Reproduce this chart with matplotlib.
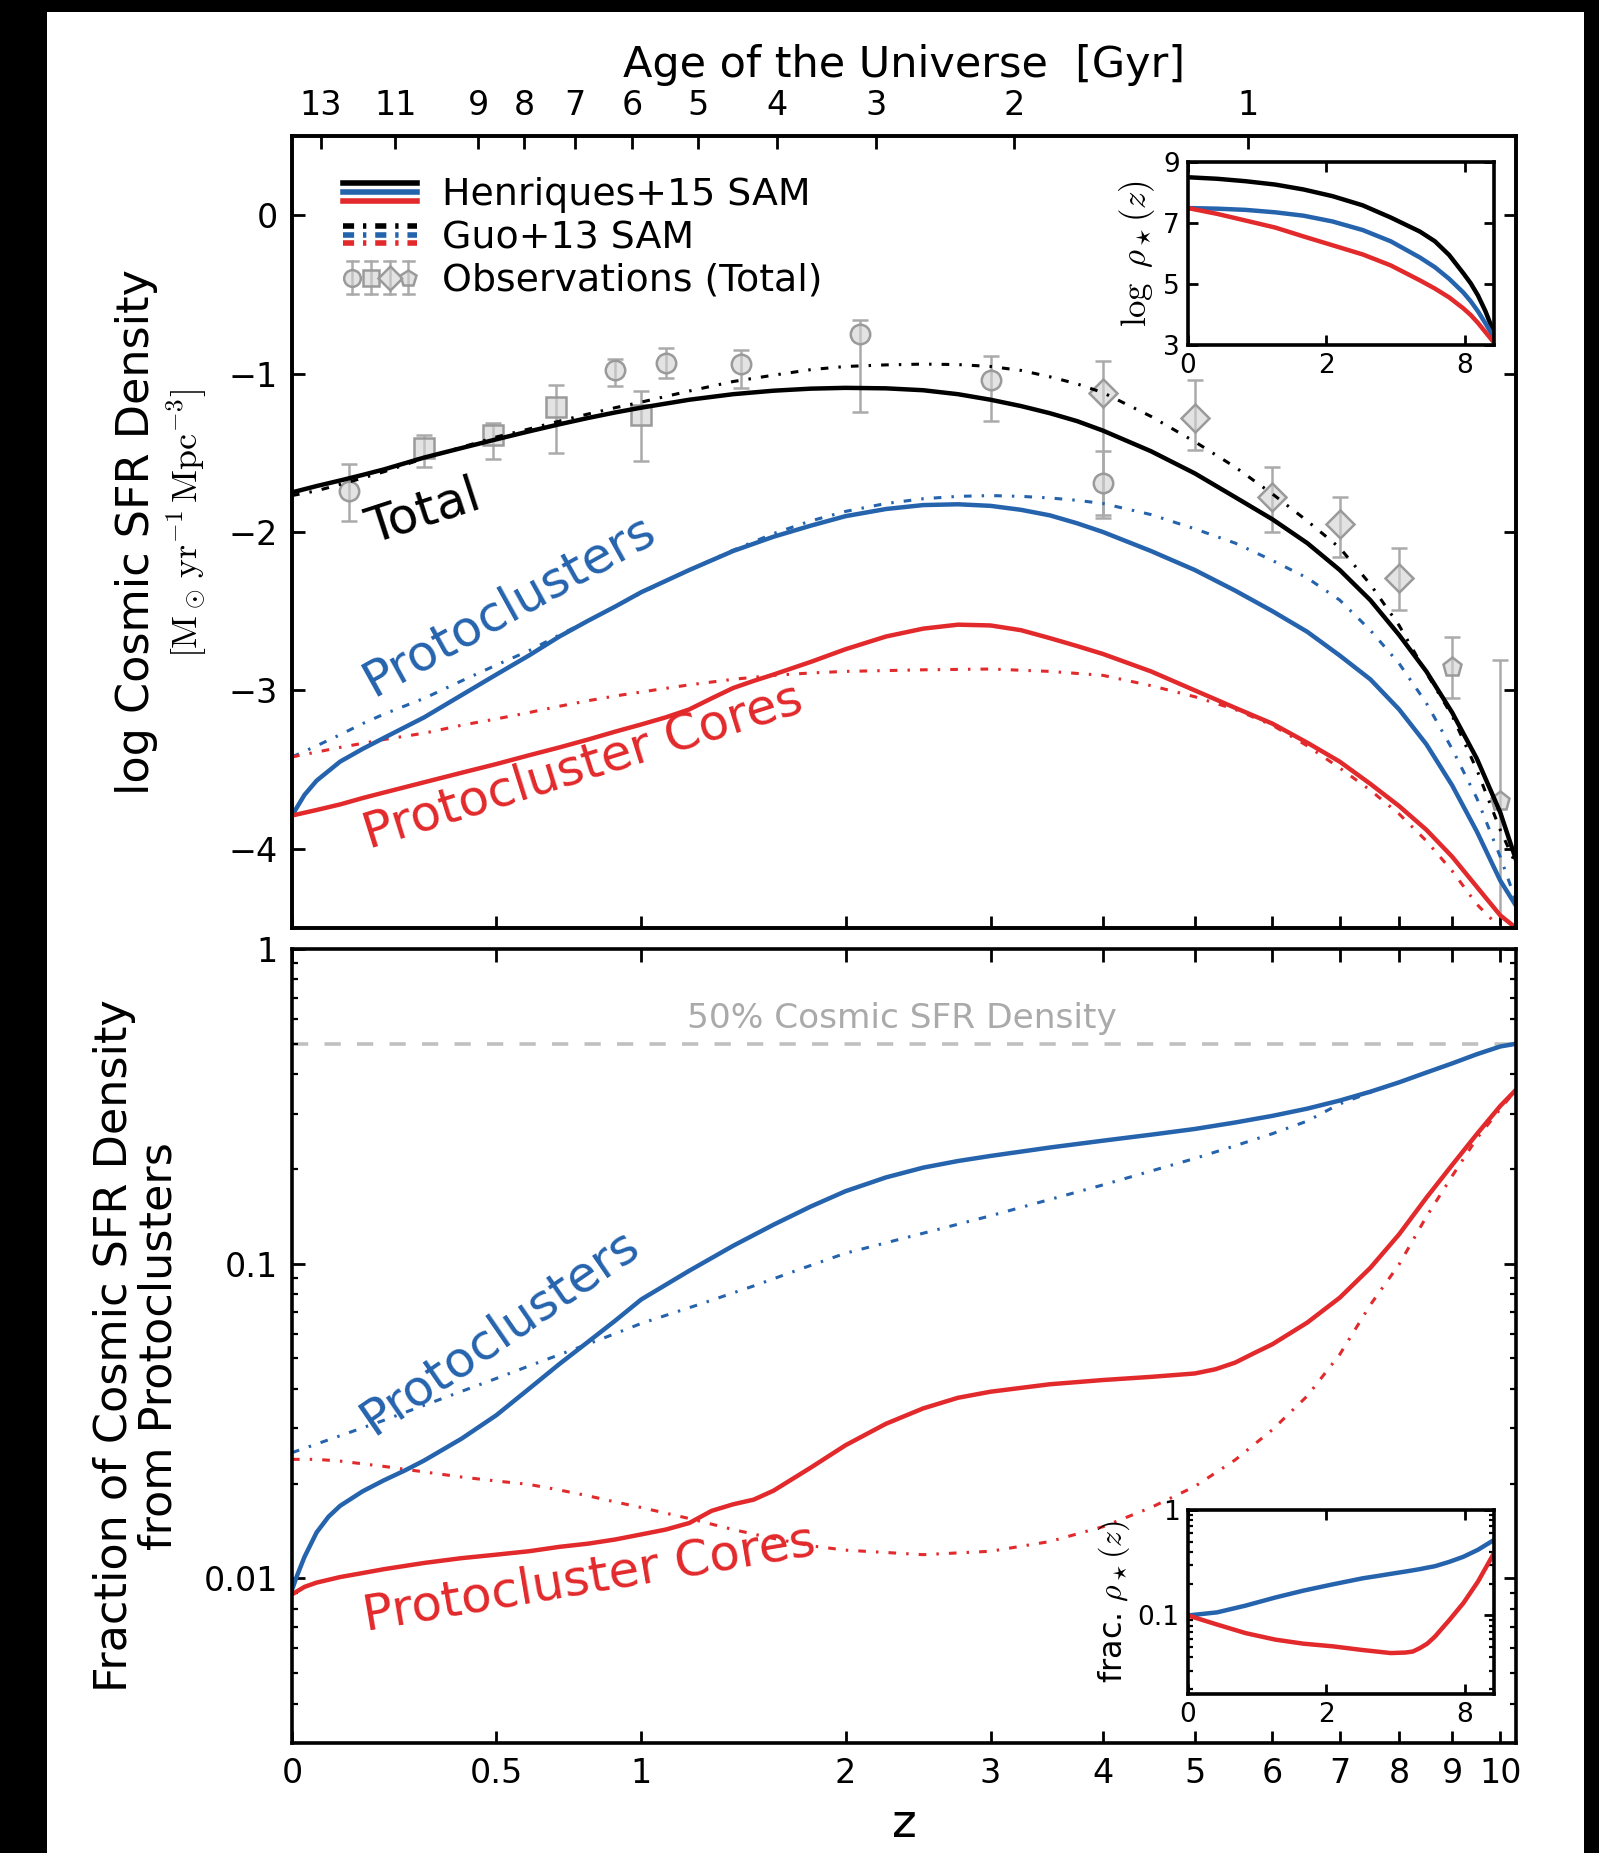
import numpy as np
import matplotlib
matplotlib.use("Agg")
import matplotlib.pyplot as plt
from matplotlib.lines import Line2D
from matplotlib.patches import Rectangle
from matplotlib.legend_handler import HandlerBase
from matplotlib.ticker import FixedLocator, NullLocator, NullFormatter, LogLocator

plt.rcParams['font.family'] = ['DejaVu Sans']
plt.rcParams['mathtext.fontset'] = 'cm'

BLUE = '#2563ad'
RED = '#e2292b'
GREY = '#9a9a9a'

# ---------------- data ----------------
# top panel: log cosmic SFR density
z_tot = [0, 0.05, 0.1, 0.15, 0.2, 0.3, 0.4, 0.5, 0.6, 0.7, 0.8, 0.9, 1.0, 1.2, 1.4, 1.6, 1.8,
         2.0, 2.25, 2.5, 2.75, 3.0, 3.25, 3.5, 3.75, 4.0, 4.5, 5.0, 5.5, 6.0, 6.5, 7.0, 7.5,
         8.0, 8.5, 9.0, 9.5, 10.0, 10.35]
sfr_hen_tot = [-1.75, -1.71, -1.675, -1.64, -1.605, -1.53, -1.47, -1.415, -1.365, -1.32,
               -1.28, -1.245, -1.215, -1.165, -1.13, -1.108, -1.095, -1.09, -1.093, -1.105,
               -1.13, -1.165, -1.205, -1.25, -1.30, -1.36, -1.49, -1.63, -1.78, -1.92,
               -2.07, -2.24, -2.43, -2.65, -2.88, -3.14, -3.43, -3.77, -4.07]
sfr_guo_tot = [-1.77, -1.74, -1.70, -1.66, -1.62, -1.535, -1.465, -1.40, -1.35, -1.30,
               -1.255, -1.215, -1.18, -1.11, -1.05, -1.01, -0.975, -0.955, -0.945, -0.94,
               -0.943, -0.955, -0.98, -1.02, -1.065, -1.12, -1.27, -1.43, -1.59, -1.76,
               -1.93, -2.10, -2.33, -2.59, -2.89, -3.16, -3.50, -3.88, -4.10]

z_hen_pc = [0, 0.025, 0.05, 0.1, 0.15, 0.2, 0.3, 0.4, 0.5, 0.6, 0.7, 0.8, 0.9, 1.0, 1.2, 1.4,
            1.6, 1.8, 2.0, 2.25, 2.5, 2.75, 3.0, 3.25, 3.5, 3.75, 4.0, 4.5, 5.0, 5.5, 6.0,
            6.5, 7.0, 7.5, 8.0, 8.5, 9.0, 9.5, 10.0, 10.35]
sfr_hen_pc = [-3.79, -3.66, -3.57, -3.45, -3.37, -3.30, -3.17, -3.03, -2.90, -2.78, -2.66,
              -2.56, -2.47, -2.38, -2.24, -2.12, -2.03, -1.96, -1.90, -1.855, -1.83, -1.825,
              -1.835, -1.86, -1.895, -1.945, -2.00, -2.12, -2.24, -2.37, -2.50, -2.63,
              -2.78, -2.93, -3.12, -3.34, -3.60, -3.89, -4.20, -4.36]

z_guo_pc = z_tot
sfr_guo_pc = [-3.42, -3.35, -3.28, -3.21, -3.15, -3.05, -2.94, -2.84, -2.75, -2.65, -2.56,
              -2.47, -2.385, -2.24, -2.115, -2.01, -1.93, -1.87, -1.82, -1.79, -1.775, -1.77,
              -1.775, -1.785, -1.80, -1.82, -1.89, -1.98, -2.07, -2.18, -2.29, -2.43, -2.62,
              -2.83, -3.08, -3.37, -3.68, -4.05, -4.33]

z_hen_core = [0, 0.05, 0.1, 0.15, 0.2, 0.3, 0.4, 0.5, 0.6, 0.7, 0.8, 0.9, 1.0, 1.1, 1.2, 1.3,
              1.4, 1.5, 1.6, 1.8, 2.0, 2.25, 2.5, 2.75, 3.0, 3.25, 3.5, 3.75, 4.0, 4.5, 5.0,
              5.5, 6.0, 6.5, 7.0, 7.5, 8.0, 8.5, 9.0, 9.5, 10.0, 10.35]
sfr_hen_core = [-3.79, -3.755, -3.72, -3.68, -3.645, -3.58, -3.52, -3.465, -3.41, -3.36,
                -3.31, -3.26, -3.215, -3.17, -3.12, -3.05, -2.985, -2.94, -2.90, -2.82,
                -2.74, -2.66, -2.61, -2.585, -2.59, -2.62, -2.67, -2.72, -2.77, -2.88,
                -3.00, -3.11, -3.21, -3.33, -3.45, -3.59, -3.73, -3.88, -4.05, -4.24,
                -4.42, -4.50]

z_guo_core = [0, 0.1, 0.2, 0.3, 0.4, 0.5, 0.6, 0.7, 0.8, 0.9, 1.0, 1.2, 1.4, 1.6, 1.8, 2.0,
              2.5, 3.0, 3.5, 4.0, 4.5, 5.0, 5.5, 6.0, 6.5, 7.0, 7.5, 8.0, 8.5, 9.0, 9.5, 10.0,
              10.35]
sfr_guo_core = [-3.42, -3.36, -3.31, -3.27, -3.22, -3.18, -3.14, -3.10, -3.065, -3.035,
                -3.01, -2.965, -2.93, -2.905, -2.89, -2.88, -2.87, -2.865, -2.88, -2.905,
                -2.97, -3.04, -3.12, -3.22, -3.35, -3.49, -3.63, -3.78, -3.95, -4.14, -4.35,
                -4.50, -4.62]

# observations (total)
obs_z = [0.12, 0.3, 0.49, 0.69, 0.9, 1.0, 1.1, 1.44, 2.09, 3.0, 4.0, 4.0, 5.0, 6.0, 7.0,
         8.0, 9.0, 10.0]
obs_sfr = [-1.74, -1.47, -1.39, -1.21, -0.98, -1.26, -0.93, -0.94, -0.75, -1.04, -1.12,
           -1.69, -1.28, -1.78, -1.95, -2.29, -2.85, -3.70]
obs_err_lo = [0.19, 0.12, 0.15, 0.29, 0.10, 0.29, 0.10, 0.15, 0.49, 0.26, 0.79, 0.20, 0.20,
              0.22, 0.21, 0.20, 0.20, 0.90]
obs_err_hi = [0.17, 0.08, 0.08, 0.14, 0.07, 0.15, 0.09, 0.09, 0.09, 0.15, 0.20, 0.20, 0.24,
              0.19, 0.17, 0.19, 0.19, 0.89]
obs_marker = ['o', 's', 's', 's', 'o', 's', 'o', 'o', 'o', 'o', 'D', 'o', 'D', 'D', 'D',
              'D', 'p', 'p']

# bottom panel: fraction of cosmic SFR density from protoclusters
z_fhen_pc = [0, 0.01, 0.025, 0.05, 0.075, 0.1, 0.15, 0.2, 0.25, 0.3, 0.4, 0.5, 0.6, 0.7, 0.8,
             0.9, 1.0, 1.2, 1.4, 1.6, 1.8, 2.0, 2.25, 2.5, 2.75, 3.0, 3.5, 4.0, 4.5, 5.0,
             5.5, 6.0, 6.5, 7.0, 7.5, 8.0, 8.5, 9.0, 9.5, 10.0, 10.35]
f_hen_pc = [0.0092, 0.0102, 0.0117, 0.0140, 0.0157, 0.0170, 0.0189, 0.0205, 0.0220, 0.0237,
            0.0278, 0.0330, 0.0400, 0.0480, 0.0565, 0.0660, 0.0770, 0.095, 0.114, 0.133,
            0.152, 0.170, 0.188, 0.202, 0.212, 0.220, 0.234, 0.246, 0.257, 0.268, 0.281,
            0.295, 0.311, 0.330, 0.352, 0.377, 0.405, 0.433, 0.463, 0.490, 0.500]

z_fguo_pc = [0, 0.1, 0.2, 0.3, 0.4, 0.5, 0.6, 0.7, 0.8, 0.9, 1.0, 1.25, 1.5, 1.75, 2.0, 2.5,
             3.0, 3.5, 4.0, 4.5, 5.0, 5.5, 6.0, 6.5, 7.0, 7.5, 8.0, 8.5, 9.0, 9.5, 10.0,
             10.35]
f_guo_pc = [0.0251, 0.0284, 0.0318, 0.0355, 0.0393, 0.0432, 0.0473, 0.0514, 0.0556, 0.0600,
            0.0646, 0.0745, 0.085, 0.0965, 0.108, 0.125, 0.142, 0.160, 0.178, 0.197, 0.216,
            0.237, 0.259, 0.284, 0.322, 0.350, 0.377, 0.405, 0.433, 0.463, 0.490, 0.500]

z_fhen_core = [0, 0.025, 0.05, 0.075, 0.1, 0.15, 0.2, 0.3, 0.4, 0.5, 0.6, 0.7, 0.8, 0.9, 1.0,
               1.1, 1.2, 1.3, 1.4, 1.5, 1.6, 1.8, 2.0, 2.25, 2.5, 2.75, 3.0, 3.5, 4.0, 4.5,
               5.0, 5.25, 5.5, 5.75, 6.0, 6.5, 7.0, 7.5, 8.0, 8.5, 9.0, 9.5, 10.0, 10.35]
f_hen_core = [0.0089, 0.0094, 0.0097, 0.0099, 0.0101, 0.0104, 0.0107, 0.0112, 0.0116, 0.0119,
              0.0122, 0.0126, 0.0129, 0.0133, 0.0138, 0.0143, 0.0150, 0.0164, 0.0172,
              0.0178, 0.0190, 0.0225, 0.0265, 0.0310, 0.0347, 0.0375, 0.0392, 0.0414,
              0.0427, 0.0437, 0.0448, 0.0462, 0.0485, 0.0520, 0.0555, 0.0650, 0.0780,
              0.097, 0.124, 0.162, 0.206, 0.258, 0.317, 0.357]

z_fguo_core = [0, 0.05, 0.1, 0.2, 0.3, 0.4, 0.5, 0.6, 0.7, 0.8, 0.9, 1.0, 1.2, 1.4, 1.6, 1.8,
               2.0, 2.5, 3.0, 3.5, 4.0, 4.5, 5.0, 5.5, 6.0, 6.5, 7.0, 7.5, 8.0, 8.5, 9.0, 9.5,
               10.0, 10.35]
f_guo_core = [0.0239, 0.0239, 0.0236, 0.0227, 0.0218, 0.0210, 0.0204, 0.0199, 0.0191, 0.0183,
              0.0175, 0.0168, 0.0155, 0.0143, 0.0134, 0.0127, 0.0123, 0.0119, 0.0122, 0.0131,
              0.0146, 0.0168, 0.0196, 0.0238, 0.0297, 0.0380, 0.0515, 0.074, 0.0995, 0.141,
              0.190, 0.250, 0.310, 0.357]

# insets: stellar mass density and its protocluster fraction
z_in = [0, 0.26, 0.58, 1.0, 1.5, 2.15, 3.0, 4.0, 5.3, 6.1, 6.95, 7.9, 8.44, 9.0, 9.59, 10.35]
rho_tot = [8.5, 8.45, 8.37, 8.26, 8.10, 7.88, 7.58, 7.18, 6.72, 6.40, 5.95, 5.35, 5.02, 4.62,
           4.12, 3.4]
rho_pc = [7.49, 7.47, 7.43, 7.35, 7.24, 7.05, 6.77, 6.40, 5.87, 5.55, 5.17, 4.72, 4.43, 4.10,
          3.72, 3.24]
rho_core = [7.49, 7.30, 7.08, 6.85, 6.56, 6.27, 5.97, 5.61, 5.12, 4.85, 4.56, 4.20, 3.98,
            3.72, 3.43, 3.08]

z_fin = [0, 0.26, 0.58, 1.0, 1.5, 2.15, 3.0, 3.47, 4.0, 4.62, 4.96, 5.3, 5.68, 6.1, 6.95,
         7.9, 9.0, 10.35]
frho_pc = [0.1, 0.107, 0.124, 0.148, 0.172, 0.197, 0.225, 0.236, 0.248, 0.261, 0.268, 0.275,
           0.284, 0.293, 0.322, 0.36, 0.42, 0.52]
frho_core = [0.1, 0.082, 0.068, 0.059, 0.054, 0.051, 0.047, 0.0455, 0.0440, 0.0445, 0.0455,
             0.049, 0.054, 0.063, 0.09, 0.131, 0.21, 0.39]

z_ticks = [0, 0.5, 1, 2, 3, 4, 5, 6, 7, 8, 9, 10]
z_tick_labels = ['0', '0.5', '1', '2', '3', '4', '5', '6', '7', '8', '9', '10']
age_ticks = [13, 11, 9, 8, 7, 6, 5, 4, 3, 2, 1]
inset_z_ticks = [0, 2, 8]


# ---------------- helpers ----------------
def fwd(z):
    return np.log10(1.0 + np.asarray(z, dtype=float))


def inv(x):
    return 10.0 ** np.asarray(x, dtype=float) - 1.0


def z_of_age(t, h0=67.3, om=0.315):
    # flat LCDM, t in Gyr
    ol = 1.0 - om
    H = h0 / 977.8
    a = 2.0 / (3.0 * H * np.sqrt(ol))
    return (np.sqrt(ol / om) / np.sinh(np.asarray(t, float) / a)) ** (2.0 / 3.0) - 1.0


class StackHandler(HandlerBase):
    def __init__(self, colors, lw, dashes=None):
        super().__init__()
        self.colors = colors
        self.lw = lw
        self.dashes = dashes

    def create_artists(self, legend, orig_handle, xdescent, ydescent, width, height,
                       fontsize, trans):
        arts = []
        for i, c in enumerate(self.colors):
            y = height / 2 + (1 - i) * 0.33 * height - ydescent
            ln = Line2D([-xdescent, width - xdescent], [y, y], color=c, lw=self.lw,
                        transform=trans)
            if self.dashes is not None:
                ln.set_dashes(self.dashes)
            arts.append(ln)
        return arts


class ObsHandler(HandlerBase):
    def __init__(self, markers):
        super().__init__()
        self.markers = markers

    def create_artists(self, legend, orig_handle, xdescent, ydescent, width, height,
                       fontsize, trans):
        arts = []
        n = len(self.markers)
        xs = np.linspace(-xdescent + 0.12 * width, width - xdescent - 0.12 * width, n)
        yc = height / 2 - ydescent
        h = 0.62 * height
        for x, m in zip(xs, self.markers):
            arts.append(Line2D([x, x], [yc - h, yc + h], color='#aaaaaa', lw=0.9,
                               transform=trans))
            for yy in (yc - h, yc + h):
                arts.append(Line2D([x - 2, x + 2], [yy, yy], color='#aaaaaa', lw=0.9,
                                   transform=trans))
            arts.append(Line2D([x], [yc], marker=m, ms=6, mfc=(0.82, 0.82, 0.82, 0.6),
                               mec=GREY, mew=0.9, ls='none', transform=trans))
        return arts


def style_axes(ax, labelsize=12, length=4.5, pad=5):
    ax.tick_params(which='major', direction='in', length=length, width=1.0,
                   labelsize=labelsize, pad=pad)
    ax.tick_params(which='minor', direction='in', length=length * 0.5, width=0.8)
    for s in ax.spines.values():
        s.set_linewidth(1.3)


def set_zscale(ax, ticks):
    ax.set_xscale('function', functions=(fwd, inv))
    ax.set_xlim(0, 10.35)
    ax.xaxis.set_major_locator(FixedLocator(ticks))
    ax.xaxis.set_minor_locator(NullLocator())


# ---------------- figure ----------------
W, H = 1599, 1853
fig = plt.figure(figsize=(W / 200, H / 200), dpi=200)
fig.patch.set_facecolor('black')
fig.add_artist(Rectangle((47 / W, 0), (1584 - 47) / W, 1 - 12 / H, transform=fig.transFigure,
                         facecolor='white', edgecolor='none', zorder=-10))

ax1 = fig.add_axes([292 / W, 1 - 928 / H, 1224 / W, 792 / H])
ax2 = fig.add_axes([292 / W, 1 - 1743 / H, 1224 / W, 794 / H])

lw_solid = 1.6
lw_dd = 1.1
dd = (2.5, 3.3, 0.8, 3.3)

# ---- top panel ----
ax1.plot(z_tot, sfr_guo_tot, color='black', lw=lw_dd, dashes=dd)
ax1.plot(z_guo_pc, sfr_guo_pc, color=BLUE, lw=lw_dd, dashes=dd)
ax1.plot(z_guo_core, sfr_guo_core, color=RED, lw=lw_dd, dashes=dd)
ax1.plot(z_tot, sfr_hen_tot, color='black', lw=lw_solid)
ax1.plot(z_hen_pc, sfr_hen_pc, color=BLUE, lw=lw_solid)
ax1.plot(z_hen_core, sfr_hen_core, color=RED, lw=lw_solid)

for z, v, lo, hi, m in zip(obs_z, obs_sfr, obs_err_lo, obs_err_hi, obs_marker):
    ax1.errorbar([z], [v], yerr=[[lo], [hi]], fmt=m, ms=7, mfc=(0.82, 0.82, 0.82, 0.6),
                 mec=GREY, mew=0.9, ecolor='#aaaaaa', elinewidth=0.9, capsize=3,
                 capthick=0.9, zorder=1)

set_zscale(ax1, z_ticks)
ax1.set_ylim(-4.5, 0.5)
ax1.set_yticks([-4, -3, -2, -1, 0])
style_axes(ax1)
ax1.tick_params(axis='x', which='both', bottom=True, top=False, labelbottom=False)
ax1.tick_params(axis='y', which='both', left=True, right=True)

ax_age = ax1.twiny()
set_zscale(ax_age, z_of_age(age_ticks))
ax_age.set_xticklabels([str(a) for a in age_ticks])
style_axes(ax_age)
ax_age.tick_params(axis='x', pad=5)
ax_age.set_xlabel('Age of the Universe  [Gyr]', fontsize=15.5, labelpad=4.3)

ax1.text(-0.127, 0.5, 'log Cosmic SFR Density', transform=ax1.transAxes, rotation=90,
         ha='center', va='center', fontsize=16)
ax1.text(-0.086, 0.51, r'$[\mathrm{M_\odot\,yr^{-1}\,Mpc^{-3}}]$', transform=ax1.transAxes,
         rotation=90, ha='center', va='center', fontsize=13)

ax1.text(0.173, -2.07, 'Total', rotation=18, rotation_mode='anchor', ha='left',
         va='baseline', fontsize=18, color='black')
ax1.text(0.173, -3.04, 'Protoclusters', rotation=29, rotation_mode='anchor', ha='left',
         va='baseline', fontsize=18, color=BLUE)
ax1.text(0.165, -4.0, 'Protocluster Cores', rotation=17.5, rotation_mode='anchor',
         ha='left', va='baseline', fontsize=18, color=RED)

h_hen = Line2D([], [])
h_guo = Line2D([], [])
h_obs = Line2D([], [])
ax1.legend([h_hen, h_guo, h_obs], ['Henriques+15 SAM', 'Guo+13 SAM', 'Observations (Total)'],
           handler_map={h_hen: StackHandler(['black', BLUE, RED], 2.0),
                        h_guo: StackHandler(['black', BLUE, RED], 2.0, (2.0, 1.6, 0.6, 1.6)),
                        h_obs: ObsHandler(['o', 's', 'D', 'p'])},
           loc='upper left', bbox_to_anchor=(0.042, 0.948), frameon=False, fontsize=13.65,
           borderpad=0, borderaxespad=0, handlelength=1.95, handletextpad=0.65,
           labelspacing=0.18)

# ---- bottom panel ----
ax2.axhline(0.5, color='#c0c0c0', lw=1.3, dashes=(4.5, 4.5), zorder=0)
ax2.text(2.355, 0.60, '50% Cosmic SFR Density', ha='center', va='center', fontsize=12.4,
         color='#aaaaaa')
ax2.plot(z_fguo_pc, f_guo_pc, color=BLUE, lw=lw_dd, dashes=dd)
ax2.plot(z_fguo_core, f_guo_core, color=RED, lw=lw_dd, dashes=dd)
ax2.plot(z_fhen_pc, f_hen_pc, color=BLUE, lw=lw_solid)
ax2.plot(z_fhen_core, f_hen_core, color=RED, lw=lw_solid)

set_zscale(ax2, z_ticks)
ax2.set_xticklabels(z_tick_labels)
ax2.set_yscale('log')
ax2.set_ylim(0.003, 1)
ax2.set_yticks([0.01, 0.1, 1], labels=['0.01', '0.1', '1'])
ax2.yaxis.set_minor_locator(LogLocator(subs=np.arange(2, 10)))
ax2.yaxis.set_minor_formatter(NullFormatter())
style_axes(ax2)
ax2.tick_params(axis='x', which='both', bottom=True, top=True)
ax2.tick_params(axis='y', which='both', left=True, right=True)
ax2.set_xlabel('z', fontsize=17, labelpad=4.5)

ax2.text(-0.127, 0.5, 'Fraction of Cosmic SFR Density\nfrom Protoclusters',
         transform=ax2.transAxes, rotation=90, ha='center', va='center', fontsize=16,
         linespacing=1.05)

ax2.text(0.173, 0.0284, 'Protoclusters', rotation=34.5, rotation_mode='anchor', ha='left',
         va='baseline', fontsize=18, color=BLUE)
ax2.text(0.159, 0.00684, 'Protocluster Cores', rotation=9.6, rotation_mode='anchor',
         ha='left', va='baseline', fontsize=18, color=RED)

# ---- insets ----
axi1 = fig.add_axes([1188 / W, 1 - 345 / H, 306 / W, 183 / H])
axi1.plot(z_in, rho_tot, color='black', lw=lw_solid)
axi1.plot(z_in, rho_pc, color=BLUE, lw=lw_solid)
axi1.plot(z_in, rho_core, color=RED, lw=lw_solid)
set_zscale(axi1, inset_z_ticks)
axi1.set_xticklabels([str(t) for t in inset_z_ticks])
axi1.set_ylim(3, 9)
axi1.set_yticks([3, 5, 7, 9])
style_axes(axi1, labelsize=9.5, length=3.5, pad=3)
axi1.tick_params(axis='both', which='both', top=True, right=True)
axi1.set_ylabel(r'$\log\ \rho_\star(z)$', fontsize=12.5, labelpad=2)

axi2 = fig.add_axes([1188 / W, 1 - 1694 / H, 306 / W, 184 / H])
axi2.plot(z_fin, frho_pc, color=BLUE, lw=lw_solid)
axi2.plot(z_fin, frho_core, color=RED, lw=lw_solid)
set_zscale(axi2, inset_z_ticks)
axi2.set_xticklabels([str(t) for t in inset_z_ticks])
axi2.set_yscale('log')
axi2.set_ylim(0.018, 1)
axi2.set_yticks([0.1, 1], labels=['0.1', '1'])
axi2.yaxis.set_minor_locator(LogLocator(subs=np.arange(2, 10)))
axi2.yaxis.set_minor_formatter(NullFormatter())
style_axes(axi2, labelsize=9.5, length=3.5, pad=3)
axi2.tick_params(axis='both', which='both', top=True, right=True)
axi2.set_ylabel(r'frac. $\rho_\star(z)$', fontsize=11.5, labelpad=2)

fig.savefig('out.png', dpi=200, facecolor=fig.get_facecolor())
